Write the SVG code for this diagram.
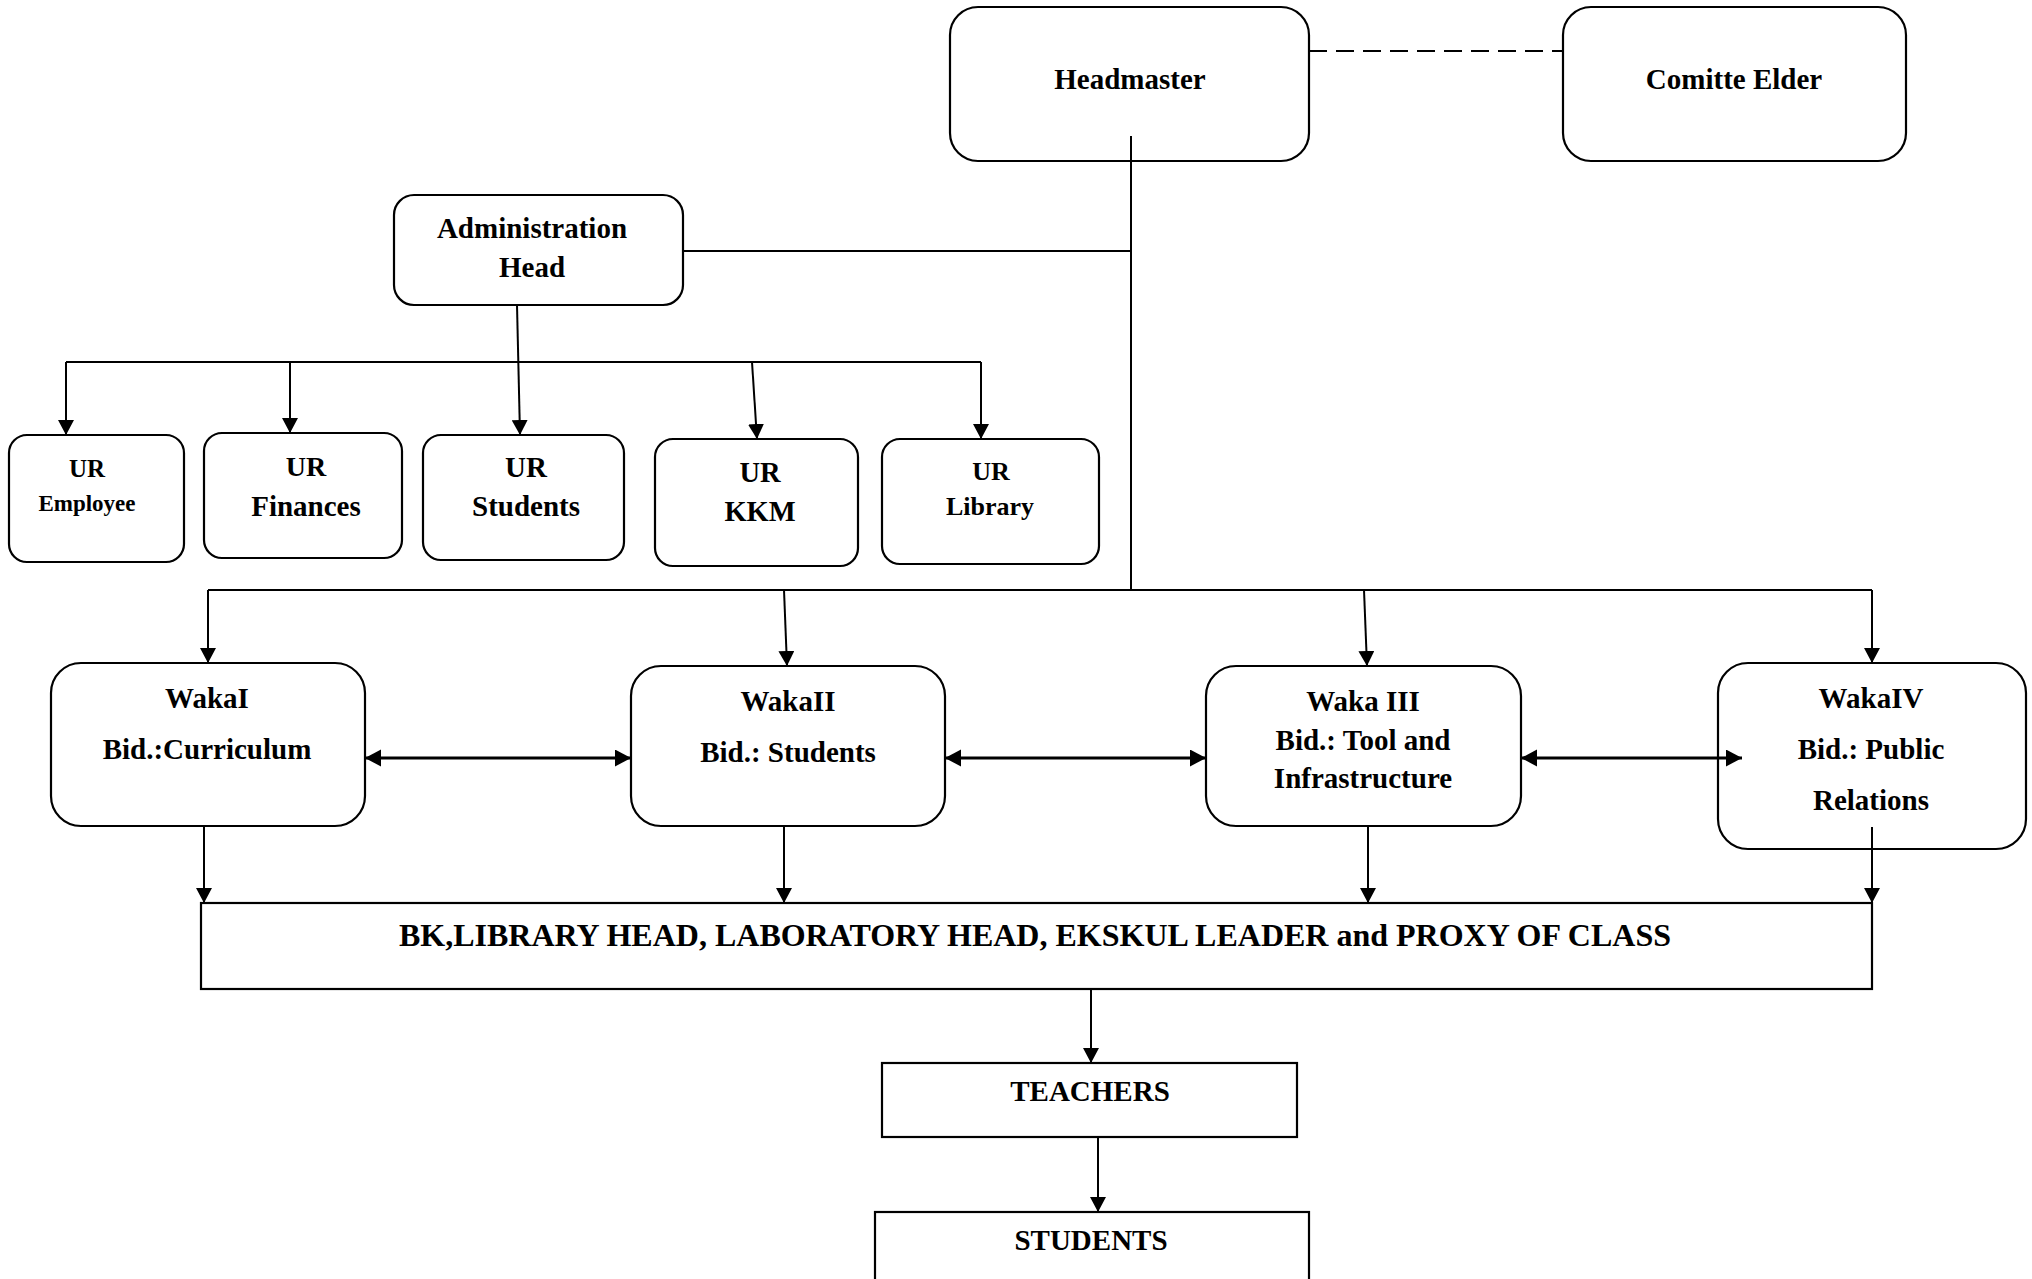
<svg xmlns="http://www.w3.org/2000/svg" width="2032" height="1279" viewBox="0 0 2032 1279">
<style>
.box{fill:#fff;stroke:#000;stroke-width:2.2}
.t{font-family:"Liberation Serif","Times New Roman",serif;font-weight:bold;fill:#000;text-anchor:middle}
.ln{fill:none;stroke:#000;stroke-width:2}
.thick{fill:none;stroke:#000;stroke-width:3}
</style>
<defs>
<marker id="ah" markerUnits="userSpaceOnUse" markerWidth="16" markerHeight="16" refX="15" refY="8" orient="auto-start-reverse" viewBox="0 0 16 16">
<path d="M0,0 L15,8 L0,16 z" fill="#000"/>
</marker>
<marker id="ah2" markerUnits="userSpaceOnUse" markerWidth="18" markerHeight="18" refX="16" refY="8.5" orient="auto-start-reverse" viewBox="0 0 18 18">
<path d="M0,0 L16,8.5 L0,17 z" fill="#000"/>
</marker>
</defs>
<rect width="2032" height="1279" fill="#fff"/>
<g id="headmaster"><rect class="box" x="950" y="7" width="359" height="154" rx="28"/><text class="t" x="1130" y="89" font-size="29">Headmaster</text></g>
<g id="comitte-elder"><rect class="box" x="1563" y="7" width="343" height="154" rx="28"/><text class="t" x="1734" y="89" font-size="29">Comitte Elder</text></g>
<g id="administration-head"><rect class="box" x="394" y="195" width="289" height="110" rx="20"/><text class="t" x="532" y="238" font-size="29">Administration</text><text class="t" x="532" y="277" font-size="29">Head</text></g>
<g id="ur-employee"><rect class="box" x="9" y="435" width="175" height="127" rx="18"/><text class="t" x="87" y="477" font-size="25">UR</text><text class="t" x="87" y="511" font-size="23">Employee</text></g>
<g id="ur-finances"><rect class="box" x="204" y="433" width="198" height="125" rx="18"/><text class="t" x="306" y="476" font-size="28">UR</text><text class="t" x="306" y="516" font-size="29">Finances</text></g>
<g id="ur-students"><rect class="box" x="423" y="435" width="201" height="125" rx="18"/><text class="t" x="526" y="477" font-size="29">UR</text><text class="t" x="526" y="516" font-size="29">Students</text></g>
<g id="ur-kkm"><rect class="box" x="655" y="439" width="203" height="127" rx="18"/><text class="t" x="760" y="482" font-size="28.5">UR</text><text class="t" x="760" y="521" font-size="28.5">KKM</text></g>
<g id="ur-library"><rect class="box" x="882" y="439" width="217" height="125" rx="18"/><text class="t" x="991" y="480" font-size="26">UR</text><text class="t" x="990" y="515" font-size="26">Library</text></g>
<g id="waka-1"><rect class="box" x="51" y="663" width="314" height="163" rx="30"/><text class="t" x="207" y="708" font-size="29">WakaI</text><text class="t" x="207" y="759" font-size="29">Bid.:Curriculum</text></g>
<g id="waka-2"><rect class="box" x="631" y="666" width="314" height="160" rx="30"/><text class="t" x="788" y="711" font-size="29">WakaII</text><text class="t" x="788" y="762" font-size="29">Bid.: Students</text></g>
<g id="waka-3"><rect class="box" x="1206" y="666" width="315" height="160" rx="30"/><text class="t" x="1363" y="711" font-size="29">Waka III</text><text class="t" x="1363" y="750" font-size="29">Bid.: Tool and</text><text class="t" x="1363" y="788" font-size="29">Infrastructure</text></g>
<g id="waka-4"><rect class="box" x="1718" y="663" width="308" height="186" rx="30"/><text class="t" x="1871" y="708" font-size="29">WakaIV</text><text class="t" x="1871" y="759" font-size="29">Bid.: Public</text><text class="t" x="1871" y="810" font-size="29">Relations</text></g>
<g id="bk-heads"><rect class="box" x="201" y="903" width="1671" height="86"/><text class="t" x="1035" y="946" font-size="32">BK,LIBRARY HEAD, LABORATORY HEAD, EKSKUL LEADER and PROXY OF CLASS</text></g>
<g id="teachers"><rect class="box" x="882" y="1063" width="415" height="74"/><text class="t" x="1090" y="1101" font-size="29">TEACHERS</text></g>
<g id="students"><rect class="box" x="875" y="1212" width="434" height="100"/><text class="t" x="1091" y="1250" font-size="29">STUDENTS</text></g>
<g id="connectors">
<path class="ln" d="M1309,51 H1563" stroke-dasharray="18 9"/>
<path class="ln" d="M1131,136 V590"/>
<path class="ln" d="M683,251 H1131"/>
<path class="ln" d="M208,590 H1872"/>
<path class="ln" d="M66,362 H981"/>
<path class="ln" d="M66,362 V435" marker-end="url(#ah)"/>
<path class="ln" d="M290,362 V433" marker-end="url(#ah)"/>
<path class="ln" d="M517,305 L520,435" marker-end="url(#ah)"/>
<path class="ln" d="M752,362 L757,439" marker-end="url(#ah)"/>
<path class="ln" d="M981,362 V439" marker-end="url(#ah)"/>
<path class="ln" d="M208,590 V663" marker-end="url(#ah)"/>
<path class="ln" d="M784,590 L787,666" marker-end="url(#ah)"/>
<path class="ln" d="M1364,590 L1367,666" marker-end="url(#ah)"/>
<path class="ln" d="M1872,590 V663" marker-end="url(#ah)"/>
<path class="thick" d="M365,758 H631" marker-start="url(#ah2)" marker-end="url(#ah2)"/>
<path class="thick" d="M945,758 H1206" marker-start="url(#ah2)" marker-end="url(#ah2)"/>
<path class="thick" d="M1521,758 H1742" marker-start="url(#ah2)" marker-end="url(#ah2)"/>
<path class="ln" d="M204,826 V903" marker-end="url(#ah)"/>
<path class="ln" d="M784,826 V903" marker-end="url(#ah)"/>
<path class="ln" d="M1368,826 V903" marker-end="url(#ah)"/>
<path class="ln" d="M1872,827 V903" marker-end="url(#ah)"/>
<path class="ln" d="M1091,989 V1063" marker-end="url(#ah)"/>
<path class="ln" d="M1098,1137 V1212" marker-end="url(#ah)"/>
</g>
</svg>
